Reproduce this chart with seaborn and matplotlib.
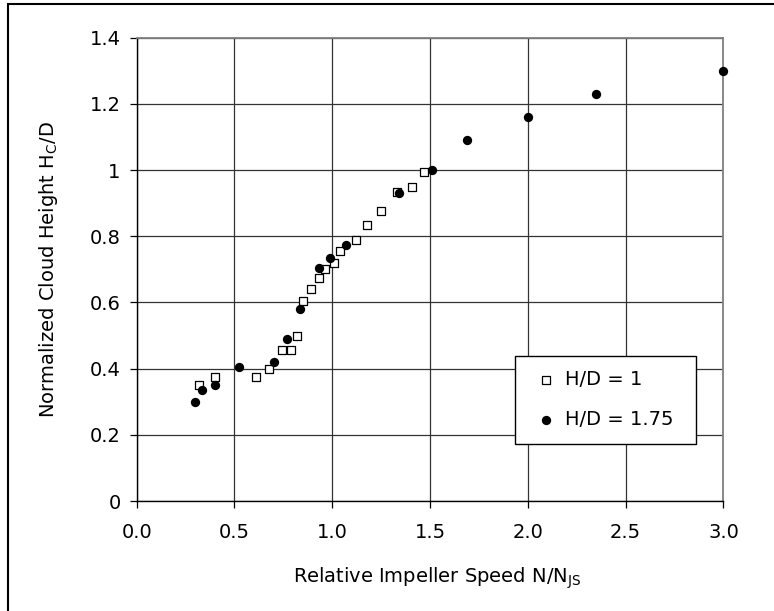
import numpy as np
import pandas as pd
import matplotlib
matplotlib.use("Agg")
import matplotlib.pyplot as plt
import seaborn as sns
from matplotlib.patches import Rectangle

# values
hd1_speed = [0.32, 0.40, 0.61, 0.675, 0.745, 0.79, 0.82, 0.85, 0.89, 0.93,
             0.965, 1.01, 1.04, 1.12, 1.18, 1.25, 1.33, 1.41, 1.47]
hd1_height = [0.35, 0.375, 0.375, 0.40, 0.455, 0.455, 0.50, 0.605, 0.64, 0.675,
              0.70, 0.72, 0.755, 0.79, 0.835, 0.875, 0.935, 0.95, 0.995]

hd175_speed = [0.30, 0.335, 0.40, 0.525, 0.70, 0.77, 0.835, 0.93, 0.99, 1.07,
               1.34, 1.51, 1.69, 2.0, 2.35, 3.0]
hd175_height = [0.30, 0.335, 0.35, 0.405, 0.42, 0.49, 0.58, 0.705, 0.735, 0.775,
                0.93, 1.0, 1.09, 1.16, 1.23, 1.30]

x_ticks = [0.0, 0.5, 1.0, 1.5, 2.0, 2.5, 3.0]
x_tick_labels = ["0.0", "0.5", "1.0", "1.5", "2.0", "2.5", "3.0"]
y_ticks = [0, 0.2, 0.4, 0.6, 0.8, 1.0, 1.2, 1.4]
y_tick_labels = ["0", "0.2", "0.4", "0.6", "0.8", "1", "1.2", "1.4"]

legend_labels = ["H/D = 1", "H/D = 1.75"]

sns.set_style("white", rc={"text.color": "black", "axes.labelcolor": "black",
                           "xtick.color": "black", "ytick.color": "black"})
plt.rcParams["font.family"] = ["DejaVu Sans"]
plt.rcParams["font.size"] = 14

fig = plt.figure(figsize=(7.74, 6.11), dpi=100)
ax = fig.add_axes([0.1766, 0.18, 0.7581, 0.7583])

# open squares first, filled circles on top
sns.scatterplot(x=hd1_speed, y=hd1_height, marker="s", s=30, color="white",
                edgecolor="black", linewidth=0.9, label=legend_labels[0],
                ax=ax, clip_on=False, zorder=3)
sns.scatterplot(x=hd175_speed, y=hd175_height, marker="o", s=45, color="black",
                edgecolor="black", linewidth=0, label=legend_labels[1],
                ax=ax, clip_on=False, zorder=4)

ax.set_xlim(0, 3.0)
ax.set_ylim(0, 1.4)
ax.set_xticks(x_ticks)
ax.set_xticklabels(x_tick_labels)
ax.set_yticks(y_ticks)
ax.set_yticklabels(y_tick_labels)

ax.grid(True, color="#333333", linewidth=0.9)
ax.set_axisbelow(True)

for side in ["top", "right"]:
    ax.spines[side].set_color("#808080")
    ax.spines[side].set_linewidth(1.3)
for side in ["left", "bottom"]:
    ax.spines[side].set_color("black")
    ax.spines[side].set_linewidth(1.0)

ax.tick_params(axis="both", which="major", direction="out", length=5, width=0.9,
               labelsize=14, bottom=True, left=True)
ax.tick_params(axis="y", pad=6.5)
ax.tick_params(axis="x", pad=11)

ax.set_xlabel(r"Relative Impeller Speed N/N$_{\mathregular{JS}}$", fontsize=14)
ax.set_ylabel(r"Normalized Cloud Height H$_{\mathregular{C}}$/D", fontsize=14)
ax.xaxis.set_label_coords(0.5126, -0.14)
ax.yaxis.set_label_coords(-0.131, 0.5)

leg = ax.legend(loc="center", bbox_to_anchor=(0.645, 0.124, 0.3076, 0.189),
                mode="expand", frameon=True, fancybox=False, edgecolor="black",
                framealpha=1, borderpad=0.74, labelspacing=1.1, handlelength=1.7,
                handletextpad=0.1, borderaxespad=0, fontsize=14)
leg.get_frame().set_linewidth(1.0)

# outer frame around the whole picture
border = Rectangle((8 / 774, -0.05), 1.0, 1.05 - 4.5 / 611, transform=fig.transFigure,
                   fill=False, edgecolor="black", linewidth=1.5, clip_on=False)
fig.patches.append(border)

fig.savefig("out.png", dpi=100)
